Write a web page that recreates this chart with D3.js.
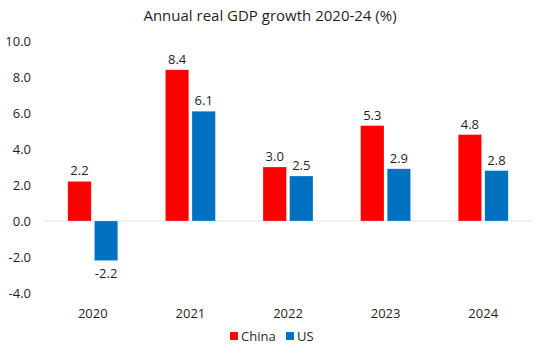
<!DOCTYPE html>
<meta charset="utf-8">
<script src="https://cdn.jsdelivr.net/npm/d3@7"></script>
<style>
    body { margin: 0; background: #fff; }
    text { font-family: "Open Sans", "Liberation Sans", sans-serif; fill: #1f1f1f; }
</style>
<body>
<script>

    var years = ["2020", "2021", "2022", "2023", "2024"];
    var chinaVals = [2.2, 8.4, 3.0, 5.3, 4.8];
    var usVals = [-2.2, 6.1, 2.5, 2.9, 2.8];
    var seriesNames = ["China", "US"];
    var seriesColors = ["#ff0000", "#0070c0"];
    var yTicks = [-4, -2, 0, 2, 4, 6, 8, 10];

    var width = 540, height = 353;

    // plain hyphen for negatives, like the original
    var fmt = function(v) { return d3.format(".1f")(v).replace("\u2212", "-"); };

    var svg = d3.select("body").append("svg")
        .attr("width", width)
        .attr("height", height);

    // title
    svg.append("text")
        .attr("x", 270)
        .attr("y", 21)
        .attr("text-anchor", "middle")
        .style("font-size", "15px")
        .text("Annual real GDP growth 2020-24 (%)");

    var y = d3.scaleLinear()
        .domain([-4, 10])
        .range([293, 41]);

    var x = d3.scaleBand()
        .domain(years)
        .range([44, 532]);

    var xInner = d3.scaleBand()
        .domain(seriesNames)
        .range([x.bandwidth() / 2 - 25, x.bandwidth() / 2 + 25])
        .paddingInner(0.12);

    // y axis labels only
    var yAxis = d3.axisLeft(y)
        .tickValues(yTicks)
        .tickFormat(fmt)
        .tickSize(0)
        .tickPadding(0);

    var yg = svg.append("g")
        .attr("transform", "translate(31,0)")
        .call(yAxis);
    yg.select(".domain").remove();
    yg.selectAll("text")
        .style("font-size", "13px")
        .style("font-family", "'Open Sans', sans-serif")
        .attr("fill", "#1f1f1f");

    // zero line
    svg.append("line")
        .attr("x1", 44)
        .attr("x2", 532)
        .attr("y1", y(0))
        .attr("y2", y(0))
        .style("stroke", "#e3e3e3")
        .style("stroke-width", 1);

    var rows = years.map(function(yr, i) {
        return { year: yr, vals: [
            { name: "China", v: chinaVals[i] },
            { name: "US", v: usVals[i] }
        ]};
    });

    var groups = svg.selectAll(".yearGroup")
        .data(rows)
        .enter()
        .append("g")
        .attr("class", "yearGroup")
        .attr("transform", function(d) { return "translate(" + x(d.year) + ",0)"; });

    groups.selectAll("rect")
        .data(function(d) { return d.vals; })
        .enter()
        .append("rect")
        .attr("x", function(d) { return xInner(d.name); })
        .attr("width", xInner.bandwidth())
        .attr("y", function(d) { return y(Math.max(0, d.v)); })
        .attr("height", function(d) { return Math.abs(y(d.v) - y(0)); })
        .style("fill", function(d, i) { return seriesColors[i]; })
        .style("stroke", "#ffffff")
        .style("stroke-opacity", 0.5)
        .style("stroke-width", 0.5);

    groups.selectAll(".valLabel")
        .data(function(d) { return d.vals; })
        .enter()
        .append("text")
        .attr("class", "valLabel")
        .attr("x", function(d) { return xInner(d.name) + xInner.bandwidth() / 2; })
        .attr("y", function(d) { return d.v >= 0 ? y(d.v) - 6 : y(d.v) + 17; })
        .attr("text-anchor", "middle")
        .style("font-size", "13px")
        .text(function(d) { return fmt(d.v); });

    // category labels
    svg.selectAll(".catLabel")
        .data(years)
        .enter()
        .append("text")
        .attr("class", "catLabel")
        .attr("x", function(d) { return x(d) + x.bandwidth() / 2; })
        .attr("y", 318)
        .attr("text-anchor", "middle")
        .style("font-size", "13px")
        .text(function(d) { return d; });

    // legend
    var legendX = [230, 286];
    var legend = svg.selectAll(".legendItem")
        .data(seriesNames)
        .enter()
        .append("g")
        .attr("class", "legendItem")
        .attr("transform", function(d, i) { return "translate(" + legendX[i] + ",336)"; });

    legend.append("rect")
        .attr("x", 0)
        .attr("y", -4)
        .attr("width", 8)
        .attr("height", 8)
        .style("fill", function(d, i) { return seriesColors[i]; });

    legend.append("text")
        .attr("x", 11)
        .attr("y", 5)
        .style("font-size", "13px")
        .text(function(d) { return d; });

</script>
</body>
